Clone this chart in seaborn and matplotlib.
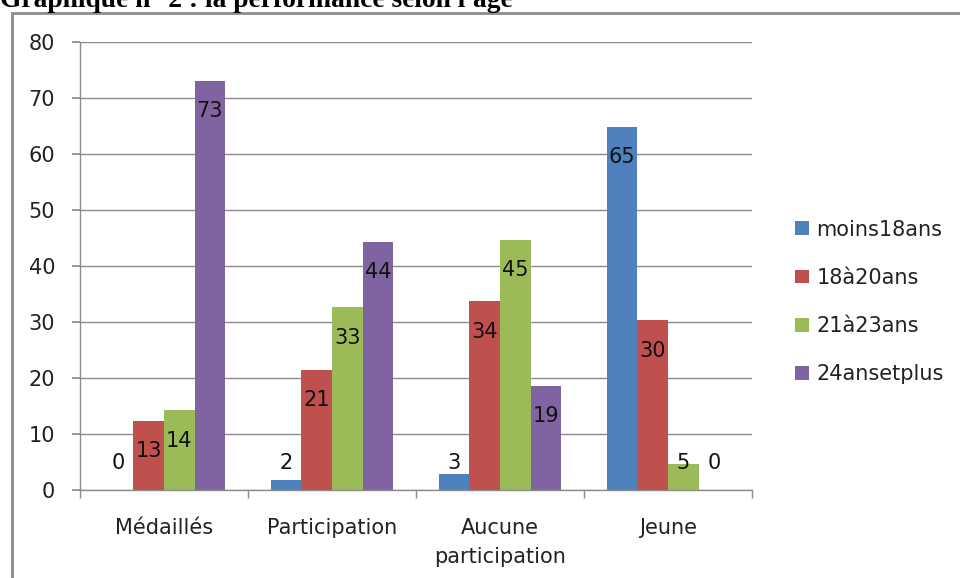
import matplotlib
matplotlib.use("Agg")
import matplotlib.pyplot as plt
import seaborn as sns
import pandas as pd
from matplotlib.patches import Rectangle

categories = ["Médaillés", "Participation", "Aucune\nparticipation", "Jeune"]
series = ["moins18ans", "18à20ans", "21à23ans", "24ansetplus"]
values = {
    "moins18ans": [0.0, 1.7, 2.8, 64.9],
    "18à20ans": [12.4, 21.4, 33.7, 30.3],
    "21à23ans": [14.2, 32.6, 44.7, 4.6],
    "24ansetplus": [73.1, 44.3, 18.6, 0.0],
}
labels = {
    "moins18ans": ["0", "2", "3", "65"],
    "18à20ans": ["13", "21", "34", "30"],
    "21à23ans": ["14", "33", "45", "5"],
    "24ansetplus": ["73", "44", "19", "0"],
}
colors = ["#4F81BD", "#C0504D", "#9BBB59", "#8064A2"]
yticks = [0, 10, 20, 30, 40, 50, 60, 70, 80]
title = "Graphique n° 2 : la performance selon l'âge"

rows = []
for s in series:
    for c, v in zip(categories, values[s]):
        rows.append({"cat": c, "serie": s, "val": v})
df = pd.DataFrame(rows)

sns.set_theme(style="white")
plt.rcParams["font.family"] = ["DejaVu Sans"]

fig = plt.figure(figsize=(9.6, 5.78), dpi=100)
ax = fig.add_axes([80 / 960, 1 - 490 / 578, 672 / 960, 448 / 578])

sns.barplot(data=df, x="cat", y="val", hue="serie", order=categories,
            hue_order=series, palette=colors, width=0.727, gap=0,
            linewidth=0, saturation=1, ax=ax, legend=True)

ax.set_ylim(0, 80)
ax.set_xlim(-0.5, 3.5)
ax.set_yticks(yticks)
ax.set_yticklabels([str(t) for t in yticks])
ax.yaxis.grid(True, color="#8c8c8c", linewidth=1)
ax.set_axisbelow(True)
ax.set_xlabel("")
ax.set_ylabel("")
for sp in ["top", "right"]:
    ax.spines[sp].set_visible(False)
for sp in ["left", "bottom"]:
    ax.spines[sp].set_color("#8c8c8c")
    ax.spines[sp].set_linewidth(1)

ax.tick_params(axis="y", length=6, color="#8c8c8c", labelsize=15, pad=12,
               labelcolor="#222222", left=True)
ax.tick_params(axis="x", which="major", length=0, labelsize=15, pad=20,
               labelcolor="#222222")
ax.set_xticks([-0.5, 0.5, 1.5, 2.5, 3.5], minor=True)
ax.tick_params(axis="x", which="minor", length=6, color="#8c8c8c", bottom=True)
for t in ax.get_xticklabels():
    t.set_linespacing(1.6)
    t.set_verticalalignment("top")

for cont, s in zip(ax.containers, series):
    for bar, lab in zip(cont, labels[s]):
        h = bar.get_height()
        y = max(h - 5.4, 4.8)
        ax.text(bar.get_x() + bar.get_width() / 2, y, lab, ha="center",
                va="center", fontsize=15, color="#111111")

handles, labs = ax.get_legend_handles_labels()
ax.legend_.remove()
fig.legend(handles, labs, loc="center left", bbox_to_anchor=(785 / 960, 1 - 302 / 578),
           frameon=False, fontsize=15, handlelength=0.65, handleheight=0.65,
           handletextpad=0.35, labelspacing=1.36, borderpad=0, labelcolor="#222222")

fig.patches.append(Rectangle((12 / 960, -0.1), 1.2, 1 - 13 / 578 + 0.1,
                             transform=fig.transFigure, fill=False,
                             edgecolor="#8c8c8c", linewidth=2))

fig.text(0, 1 - 7 / 578, title, ha="left", va="baseline", fontsize=19.8,
         fontweight="bold", family="Liberation Serif", color="black")

fig.savefig("out.png", dpi=100)
